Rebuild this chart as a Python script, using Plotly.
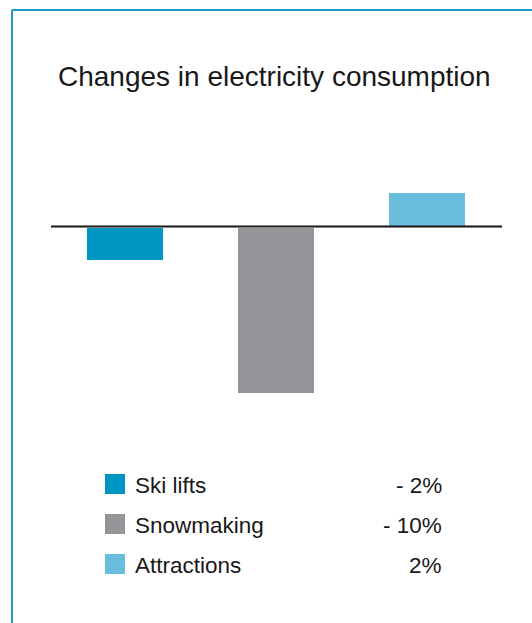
import plotly.graph_objects as go

categories = ["Ski lifts", "Snowmaking", "Attractions"]
values = [-2, -10, 2]
colors = ["#0096C4", "#939598", "#68BEDC"]
value_labels = ["- 2%", "- 10%", "2%"]
title_text = "Changes in electricity consumption"

W, H = 532, 623
ML, MR, MT, MB = 51, 30, 193, 230
PW = W - ML - MR
PH = H - MT - MB

def px_x(px):
    return (px - ML) / PW

def px_y(py):
    return (H - MB - py) / PH

FONT = "Liberation Sans, Arial, Helvetica, sans-serif"
TXT = "#1A1718"
BORDER = "#1A9BCB"

fig = go.Figure()
fig.add_trace(go.Bar(
    x=list(range(len(categories))),
    y=values,
    marker=dict(color=colors, line=dict(width=0)),
    width=0.503,
    hoverinfo="skip",
    showlegend=False,
))

shapes = []
annotations = []

# zero line (with faint grey shadow like the reference)
shapes.append(dict(type="line", xref="paper", yref="paper", x0=0, x1=1,
                   y0=px_y(227.5), y1=px_y(227.5),
                   line=dict(color="#B0B0B0", width=1), layer="above"))
shapes.append(dict(type="line", xref="paper", yref="y", x0=0, x1=1, y0=0, y1=0,
                   line=dict(color=TXT, width=1.6), layer="above"))
# frame (left and top)
shapes.append(dict(type="line", xref="paper", yref="paper",
                   x0=px_x(12), x1=px_x(12), y0=px_y(10), y1=px_y(H + 5),
                   line=dict(color=BORDER, width=2)))
shapes.append(dict(type="line", xref="paper", yref="paper",
                   x0=px_x(12), x1=px_x(W + 5), y0=px_y(10), y1=px_y(10),
                   line=dict(color=BORDER, width=2)))

# title
annotations.append(dict(text=title_text, xref="paper", yref="paper",
                        x=px_x(274), y=px_y(77), xanchor="center", yanchor="middle",
                        showarrow=False, font=dict(family=FONT, size=28, color=TXT)))

# custom legend
for i, (cat, col, lab) in enumerate(zip(categories, colors, value_labels)):
    top = 474 + 40 * i
    shapes.append(dict(type="rect", xref="paper", yref="paper",
                       x0=px_x(105), x1=px_x(125), y0=px_y(top), y1=px_y(top + 20),
                       fillcolor=col, line=dict(width=0)))
    annotations.append(dict(text=cat, xref="paper", yref="paper",
                            x=px_x(133), y=px_y(top + 11), xanchor="left", yanchor="middle",
                            showarrow=False, font=dict(family=FONT, size=22.5, color=TXT)))
    annotations.append(dict(text=lab, xref="paper", yref="paper",
                            x=px_x(444), y=px_y(top + 11), xanchor="right", yanchor="middle",
                            showarrow=False, font=dict(family=FONT, size=22.5, color=TXT)))

fig.update_layout(
    width=W, height=H,
    margin=dict(l=ML, r=MR, t=MT, b=MB, pad=0),
    paper_bgcolor="white", plot_bgcolor="white",
    xaxis=dict(range=[-0.49, 2.497], visible=False, fixedrange=True),
    yaxis=dict(range=[-10, 2], visible=False, fixedrange=True),
    shapes=shapes,
    annotations=annotations,
    font=dict(family=FONT, color=TXT),
    bargap=0,
)

fig.write_html("out.html", config={"displayModeBar": False})
